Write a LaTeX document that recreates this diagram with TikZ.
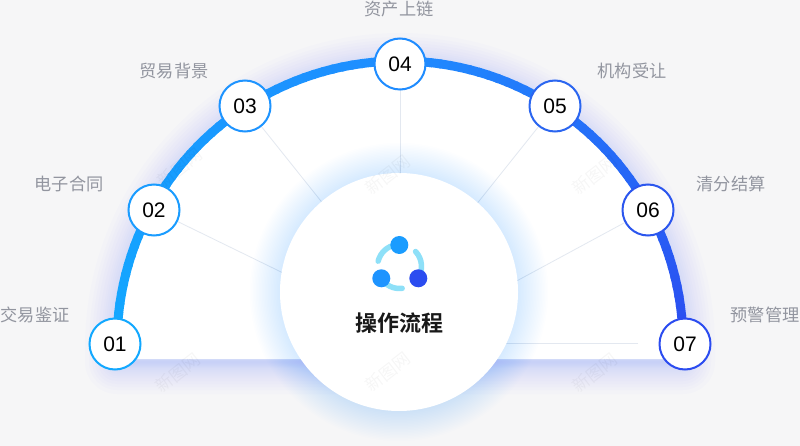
\documentclass[tikz,border=0pt]{standalone}
\usepackage{fontspec}
\setmainfont{Liberation Sans}
\newfontfamily\cjk{Noto Sans CJK SC}
\newfontfamily\cjkb{Noto Sans CJK SC Bold}
\pgfdeclarelayer{back}\pgfdeclarelayer{mid}
\pgfsetlayers{back,mid,main}
\definecolor{bgc}{HTML}{F6F6F7}
\definecolor{ca}{HTML}{12A8FF}
\definecolor{cb}{HTML}{1F8CFF}
\definecolor{cc}{HTML}{2B4CF0}
\definecolor{cd}{HTML}{1A9CFF}
\definecolor{ce}{HTML}{1E94FF}
\definecolor{cf}{HTML}{2B66F0}
\definecolor{cg}{HTML}{2B56EE}
\definecolor{lab}{HTML}{92959F}
\definecolor{spk}{HTML}{E3E8F0}
\definecolor{glowa}{HTML}{4F68FF}
\definecolor{glowb}{HTML}{5FB0FF}
\definecolor{ring}{HTML}{8EE0F8}
\tikzset{
 stepdot/.style={circle,draw=#1,fill=white,line width=2pt,minimum size=51pt,inner sep=0pt,font=\fontsize{21}{21}\selectfont},
 tag/.style={text=lab,font=\cjk\fontsize{17.2}{18}\selectfont,inner sep=0pt},
 spoke/.style={draw=spk,line width=0.8pt},
 wm/.style={rotate=38,text=black,opacity=0.035,font=\cjk\fontsize{17}{18}\selectfont,inner sep=0pt},
 ringarc/.style={draw=ring,line width=5.5pt,line cap=round}
}
\begin{document}
\begin{tikzpicture}[x=1pt,y=-1pt]
\useasboundingbox (0,0) rectangle (800,446);
% nodes
\node[stepdot=ca] (n1) at (115,344) {01};
\node[stepdot=cd] (n2) at (154,210) {02};
\node[stepdot=ce] (n3) at (245,106) {03};
\node[stepdot=cb] (n4) at (400,64) {04};
\node[stepdot=cf] (n5) at (555,106) {05};
\node[stepdot=cg] (n6) at (648,210) {06};
\node[stepdot=cc] (n7) at (685,344) {07};
\coordinate (hub) at (400,344);
\coordinate (hubl) at (400,330);
\coordinate (hubt) at (400,300);
\coordinate (tail) at (638,343);
\coordinate (tailend) at (400,343);
\begin{pgfonlayer}{back}
\fill[bgc] (0,0) rectangle (800,446);
\foreach \s in {1,2,3,4,5,6,8,10,12,14,16,19,22,25,28,32}
  \draw[glowa,opacity=0.014,line width=2*\s pt,line join=round] (117,362) -- (117,348) arc (180:360:283) -- (683,362) -- cycle;
\fill[white] (117,359) -- (117,344) arc (180:360:283) -- (683,359) -- cycle;
\end{pgfonlayer}
\begin{pgfonlayer}{mid}
\draw[spoke] (n2) -- (hubl);
\draw[spoke] (n3) -- (hubt);
\draw[spoke] (n4) -- (hubt);
\draw[spoke] (n5) -- (hubt);
\draw[spoke] (n6) -- (hub);
\draw[spoke] (tail) -- (tailend);
% gradient arc
\foreach \a in {180,182,...,268}{
  \pgfmathsetmacro\p{(\a-180)/90*100}
  \draw[cb!\p!ca,line width=9pt] (400,344)++(\a:283) arc (\a:\a+2.5:283);
}
\foreach \a in {270,272,...,358}{
  \pgfmathsetmacro\p{(\a-270)/90*100}
  \pgfmathsetmacro\e{min(\a+2.5,360)}
  \draw[cc!\p!cb,line width=9pt] (400,344)++(\a:283) arc (\a:\e:283);
}
\foreach \s in {1.5,3,...,30}
  \draw[glowb,opacity=0.012,line width=2*\s pt] (399,292) circle (119);
\end{pgfonlayer}
% centre
\node[circle,fill=white,minimum size=238pt,inner sep=0pt] (core) at (399,292) {};
\node[inner sep=0pt,font=\cjkb\fontsize{22}{24}\selectfont,text=black!90] (title) at (399,323) {操作流程};
\draw[ringarc] (399.5,266.5)++(194:22) arc (194:260:22);
\draw[ringarc] (399.5,266.5)++(-43:22) arc (-43:32:22);
\draw[ringarc] (399.5,266.5)++(83:22) arc (83:150:22);
\node[circle,fill=cd,minimum size=18pt,inner sep=0pt] (i1) at (399.3,245) {};
\node[circle,fill=ce,minimum size=18pt,inner sep=0pt] (i2) at (381.3,278.3) {};
\node[circle,fill=cc,minimum size=18pt,inner sep=0pt] (i3) at (418.3,278.3) {};
% labels
\node[tag] at (35,315) {交易鉴证};
\node[tag] at (69,184) {电子合同};
\node[tag] at (174,71) {贸易背景};
\node[tag] at (399,9) {资产上链};
\node[tag] at (632,71) {机构受让};
\node[tag] at (731,184) {清分结算};
\node[tag] at (765,315) {预警管理};
% watermarks lie over everything
\node[wm] at (180,168) {新图网};
\node[wm] at (388,175) {新图网};
\node[wm] at (595,175) {新图网};
\node[wm] at (178,373) {新图网};
\node[wm] at (388,372) {新图网};
\node[wm] at (595,373) {新图网};
\end{tikzpicture}
\end{document}
